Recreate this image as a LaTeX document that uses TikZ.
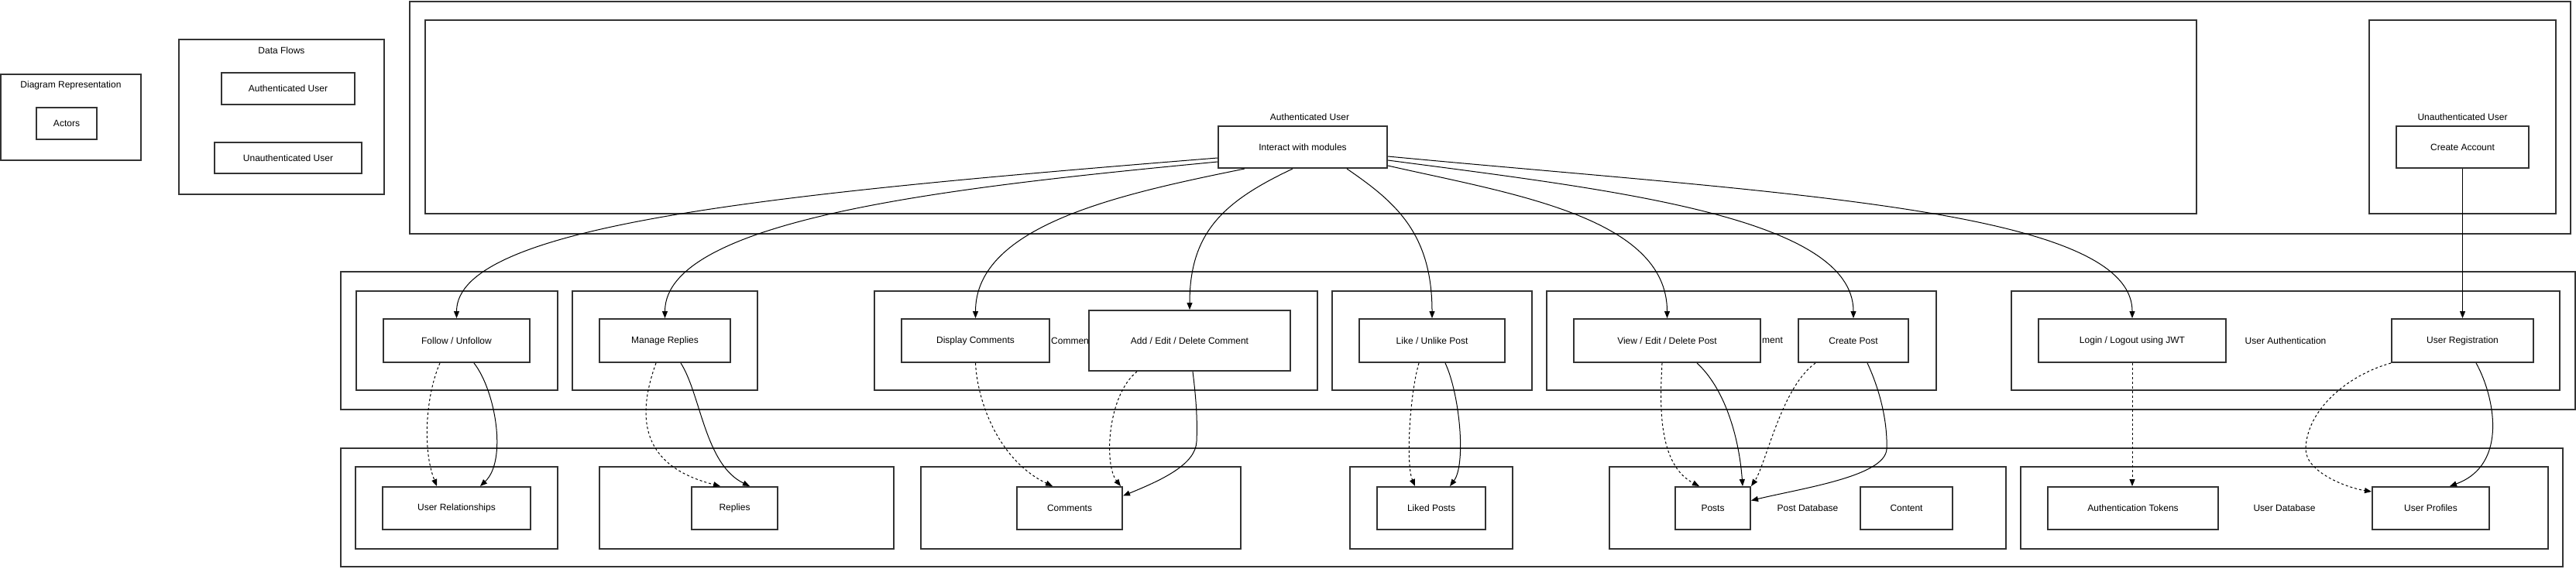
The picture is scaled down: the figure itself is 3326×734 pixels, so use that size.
\documentclass[tikz,border=0pt]{standalone}
\usepackage{fontspec}
\setmainfont{Liberation Sans}
\usetikzlibrary{arrows.meta,calc}
\definecolor{bd}{HTML}{333333}
\begin{document}
\begin{tikzpicture}[x=1pt,y=-1pt,
  every node/.style={font=\fontsize{12pt}{14pt}\selectfont, inner sep=0pt},
  sz/.style 2 args={minimum width=#1pt, minimum height=#2pt},
  grp/.style={draw=bd, line width=2pt},
  nd/.style={draw=bd, line width=2pt, fill=white},
  flow/.style={line width=1pt, -{Triangle[length=9pt,width=7pt]}},
  dflow/.style={flow, dash pattern=on 3pt off 3pt}]
\useasboundingbox (0,0) rectangle (3326,734);

% legends
\node[grp, sz={181}{111}] (drep) at (91.5,151.5) {};
\node (drepl) at (91.5,110) {Diagram Representation};
\node[nd, sz={78}{41}] (actors) at (86,159.5) {Actors};
\node[grp, sz={265}{200}] (dflowg) at (363.5,151) {};
\node (dflowl) at (363.5,65) {Data Flows};
\node[nd, sz={172}{41}] (lauth) at (372,114.5) {Authenticated User};
\node[nd, sz={190}{40}] (lunauth) at (372,204) {Unauthenticated User};

% row 1
\node[grp, sz={2790}{300}] (row1) at (1924,152) {};
\node[grp, sz={2287}{250}] (authg) at (1692.5,151) {};
\node (authgl) at (1691,151) {Authenticated User};
\node[nd, sz={218}{54}] (int) at (1682,190) {Interact with modules};
\node[grp, sz={241}{250}] (unauthg) at (3179.5,151) {};
\node (unauthgl) at (3179.5,151) {Unauthenticated User};
\node[nd, sz={171}{54}] (ca) at (3179.5,190) {Create Account};

% row 2
\node[grp, sz={2885}{178}] (row2) at (1882.5,440) {};
\node[grp, sz={260}{128}] (follg) at (590,440) {};
\node[nd, sz={189}{56}] (follow) at (589.5,440) {Follow / Unfollow};
\node[grp, sz={239}{128}] (repg) at (858.5,440) {};
\node[nd, sz={169}{56}] (manrep) at (858.5,440) {Manage Replies};
\node[grp, sz={572}{128}] (comg) at (1415,440) {};
\node[nd, sz={191}{56}] (dispc) at (1259.5,440) {Display Comments};
\node[anchor=west] (comgl) at (1357,440) {Comment};
\node[nd, sz={260}{78}] (aedc) at (1536,440) {Add / Edit / Delete Comment};
\node[grp, sz={258}{128}] (likeg) at (1849,440) {};
\node[nd, sz={188}{56}] (like) at (1849,440) {Like / Unlike Post};
\node[grp, sz={503}{128}] (postg) at (2248.5,440) {};
\node[nd, sz={241}{56}] (vedp) at (2152.5,440) {View / Edit / Delete Post};
\node[anchor=west] (postgl) at (2275,440) {ment};
\node[nd, sz={142}{56}] (cp) at (2393,440) {Create Post};
\node[grp, sz={708}{128}] (uag) at (2951,440) {};
\node (uagl) at (2951,440) {User Authentication};
\node[nd, sz={242}{56}] (login) at (2753,440) {Login / Logout using JWT};
\node[nd, sz={183}{56}] (ureg) at (3179.5,440) {User Registration};

% row 3
\node[grp, sz={2869}{153}] (row3) at (1874.5,655.5) {};
\node[grp, sz={261}{106}] (urg) at (589.5,656) {};
\node[nd, sz={191}{55}] (urel) at (589.5,656.5) {User Relationships};
\node[grp, sz={380}{106}] (repdg) at (964,656) {};
\node[nd, sz={111}{55}] (replies) at (948.5,656.5) {Replies};
\node[grp, sz={413}{106}] (comdg) at (1395.5,656) {};
\node[nd, sz={136}{55}] (comments) at (1381,656.5) {Comments};
\node[grp, sz={210}{106}] (likedg) at (1848,656) {};
\node[nd, sz={140}{55}] (liked) at (1848,656.5) {Liked Posts};
\node[grp, sz={512}{106}] (postdbg) at (2334,656) {};
\node (postdbgl) at (2334,656) {Post Database};
\node[nd, sz={97}{55}] (posts) at (2211.5,656.5) {Posts};
\node[nd, sz={119}{55}] (content) at (2461.5,656.5) {Content};
\node[grp, sz={681}{106}] (udbg) at (2949.5,656) {};
\node (udbgl) at (2949.5,656) {User Database};
\node[nd, sz={220}{55}] (atok) at (2754,656.5) {Authentication Tokens};
\node[nd, sz={151}{55}] (uprof) at (3138.5,656.5) {User Profiles};

% edges from Interact
\draw[flow] ($(int.west)+(0,14)$) .. controls (1000,250) and (589.5,290) .. (follow.north);
\draw[flow] ($(int.west)+(0,19)$) .. controls (1250,240) and (858.5,280) .. (manrep.north);
\draw[flow] ($(int.south west)+(35,0)$) .. controls (1450,250) and (1259.5,290) .. (dispc.north);
\draw[flow] ($(int.south west)+(97,0)$) .. controls (1580,260) and (1536,300) .. (aedc.north);
\draw[flow] ($(int.south west)+(167,0)$) .. controls (1800,260) and (1849,300) .. (like.north);
\draw[flow] ($(int.east)+(0,24)$) .. controls (1950,250) and (2152.5,280) .. (vedp.north);
\draw[flow] ($(int.east)+(0,17)$) .. controls (2080,245) and (2393,280) .. (cp.north);
\draw[flow] ($(int.east)+(0,12)$) .. controls (2300,250) and (2753,270) .. (login.north);
\draw[flow] (ca.south) -- (ureg.north);

% row 2 to row 3
\draw[dflow] ($(follow.south west)+(74,0)$) .. controls (550,510) and (545,580) .. ($(urel.north west)+(71,0)$);
\draw[flow] ($(follow.south west)+(118,0)$) .. controls (640,505) and (655,595) .. ($(urel.north west)+(127,0)$);
\draw[dflow] ($(manrep.south west)+(74,0)$) .. controls (825,530) and (820,600) .. ($(replies.north west)+(38,0)$);
\draw[flow] ($(manrep.south west)+(106,0)$) .. controls (905,510) and (910,600) .. ($(replies.north west)+(76,0)$);
\draw[dflow] (dispc.south) .. controls (1262,520) and (1290,595) .. ($(comments.north west)+(47,0)$);
\draw[dflow] ($(aedc.south west)+(63,0)$) .. controls (1430,510) and (1425,600) .. ($(comments.north east)+(-3,0)$);
\draw[flow] ($(aedc.south west)+(135,0)$) .. controls (1545,520) and (1546,545) .. (1545,570) .. controls (1544,600) and (1500,620) .. ($(comments.east)+(0,-16)$);
\draw[dflow] ($(like.south west)+(78,0)$) .. controls (1820,510) and (1815,600) .. ($(liked.north west)+(50,0)$);
\draw[flow] ($(like.south west)+(112,0)$) .. controls (1885,510) and (1893,600) .. ($(liked.north west)+(95,0)$);
\draw[dflow] ($(vedp.south west)+(115,0)$) .. controls (2143,520) and (2140,600) .. ($(posts.north west)+(32,0)$);
\draw[flow] ($(vedp.south west)+(160,0)$) .. controls (2225,500) and (2245,560) .. ($(posts.north west)+(88,0)$);
\draw[dflow] ($(cp.south west)+(23,0)$) .. controls (2300,500) and (2280,600) .. (posts.north east);
\draw[flow] ($(cp.south west)+(90,0)$) .. controls (2430,510) and (2437,550) .. (2436,580) .. controls (2434,615) and (2330,630) .. ($(posts.east)+(0,-10)$);
\draw[dflow] (login.south) -- (login.south |- atok.north);
\draw[dflow] (ureg.south west) .. controls (3030,485) and (2978,530) .. (2977,580) .. controls (2977,610) and (3030,630) .. ($(uprof.north west)+(0,7)$);
\draw[flow] ($(ureg.south west)+(110,0)$) .. controls (3220,510) and (3240,600) .. ($(uprof.north west)+(101,0)$);
\end{tikzpicture}
\end{document}
